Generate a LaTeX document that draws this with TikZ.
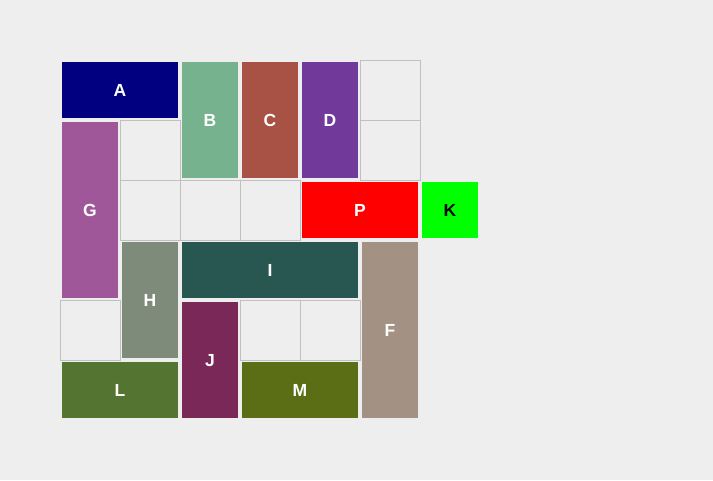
\documentclass[tikz,border=0pt]{standalone}
\usepackage{fontspec}
\setmainfont{Liberation Sans}
\definecolor{bg}{RGB}{238,238,238}
\definecolor{cellgrey}{RGB}{192,192,192}
\definecolor{cA}{RGB}{0,0,128}
\definecolor{cB}{RGB}{119,178,143}
\definecolor{cC}{RGB}{168,82,69}
\definecolor{cD}{RGB}{112,57,154}
\definecolor{cG}{RGB}{160,87,153}
\definecolor{cP}{RGB}{255,0,0}
\definecolor{cK}{RGB}{0,255,0}
\definecolor{cI}{RGB}{40,87,81}
\definecolor{cF}{RGB}{163,146,132}
\definecolor{cH}{RGB}{127,139,122}
\definecolor{cJ}{RGB}{122,40,88}
\definecolor{cL}{RGB}{84,117,50}
\definecolor{cM}{RGB}{91,110,22}
\begin{document}
\begin{tikzpicture}[x=1pt,y=-1pt,
  emptycell/.style={draw=cellgrey,line width=1.2pt,fill=bg},
  blocklabel/.style={font=\fontsize{17.5}{19}\selectfont\bfseries,text=white,inner sep=0pt},
]
\fill[bg] (0,0) rectangle (713,480);
\useasboundingbox (0,0) rectangle (713,480);
% empty cells
\foreach \x/\y in {360/60,360/120,120/120,120/180,180/180,240/180,60/300,240/300,300/300}
  \draw[emptycell] (\x+0.5,\y+0.5) rectangle (\x+60.5,\y+60.5);
% blocks: name/color/x0/y0/x1/y1/textcolor
\foreach \n/\c/\xa/\ya/\xb/\yb/\t in {
  A/cA/60/60/180/120/white,
  B/cB/180/60/240/180/white,
  C/cC/240/60/300/180/white,
  D/cD/300/60/360/180/white,
  G/cG/60/120/120/300/white,
  P/cP/300/180/420/240/white,
  K/cK/420/180/480/240/black,
  I/cI/180/240/360/300/white,
  F/cF/360/240/420/420/white,
  H/cH/120/240/180/360/white,
  J/cJ/180/300/240/420/white,
  L/cL/60/360/180/420/white,
  M/cM/240/360/360/420/white}
{
  \fill[\c] (\xa+2,\ya+2) rectangle (\xb-2,\yb-2);
  \node[blocklabel,text=\t] (blk\n) at ({(\xa+\xb)/2},{(\ya+\yb)/2+0.5}) {\n};
}
\end{tikzpicture}
\end{document}
